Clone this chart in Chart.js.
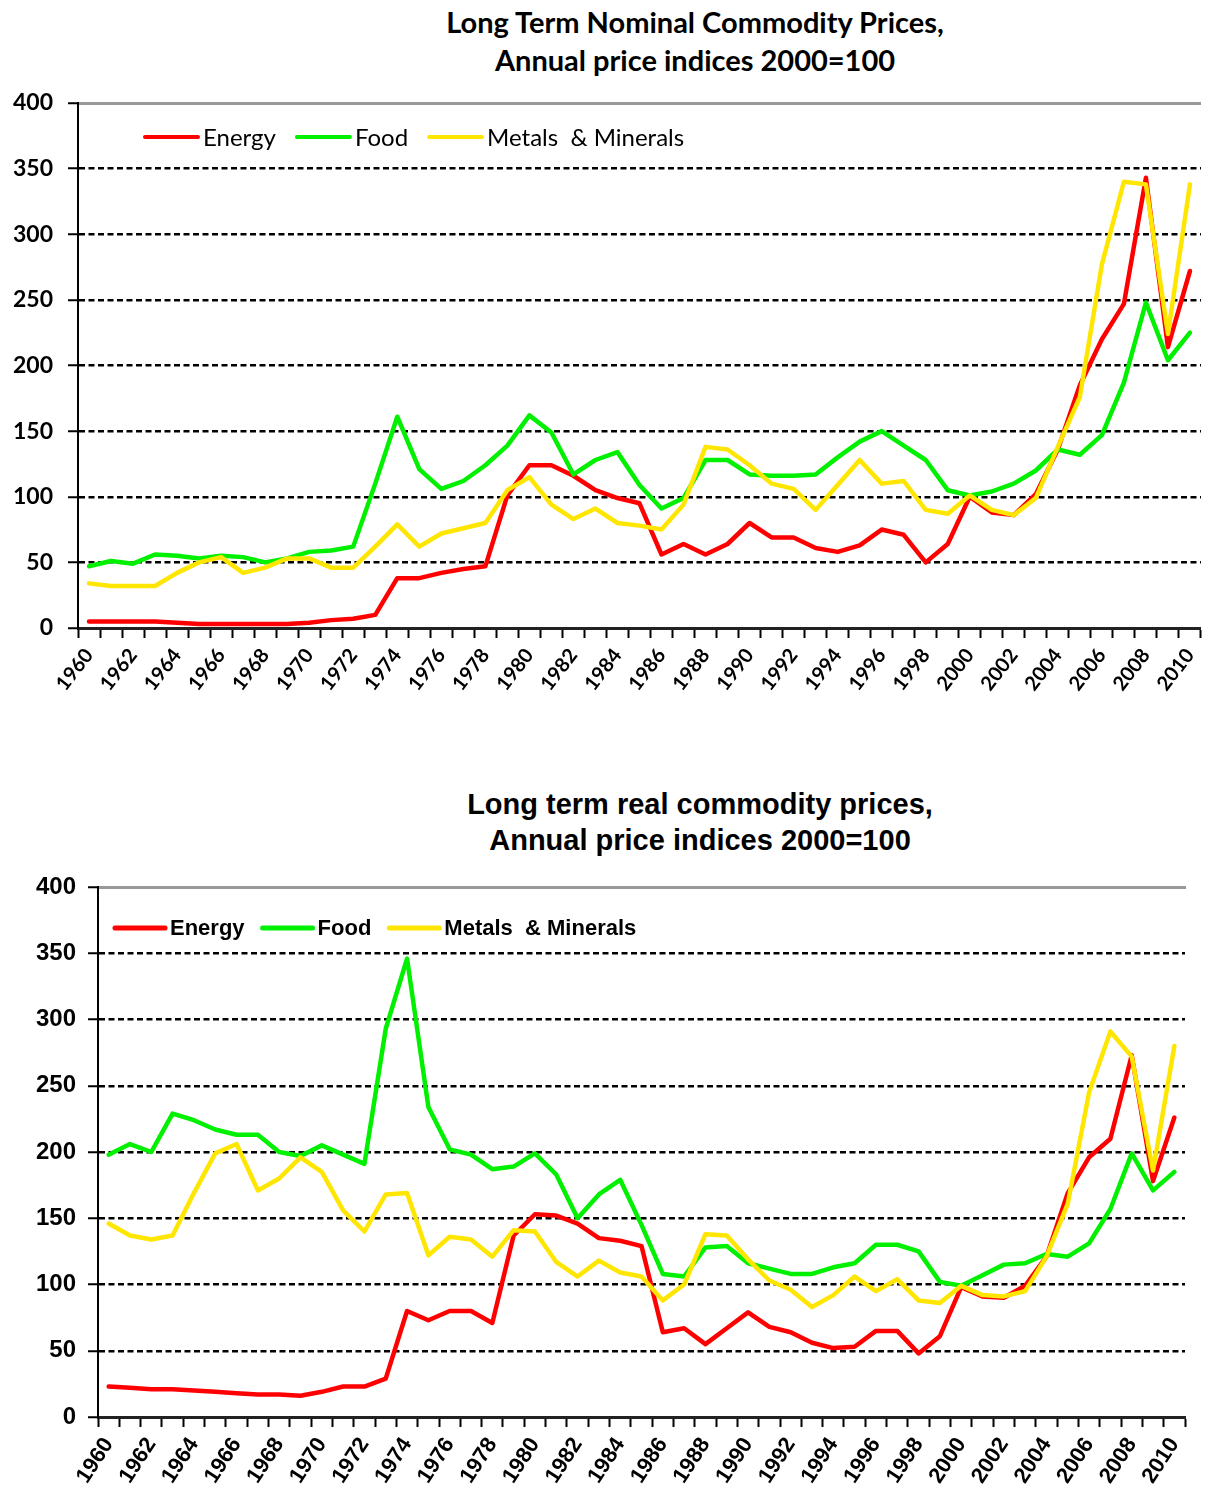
<!DOCTYPE html>
<html>
<head>
<meta charset="utf-8">
<script src="https://cdn.jsdelivr.net/npm/chart.js@4.4.1/dist/chart.umd.min.js"></script>
<style>
  html, body { margin: 0; padding: 0; background: #fff; }
  body { width: 1215px; height: 1501px; position: relative; overflow: hidden; }
  .title { position: absolute; text-align: center; color: #000; font-weight: bold; white-space: nowrap; }
  #t1 { left: 295px; width: 800px; top: 3px; font-family: Lato, "Open Sans", sans-serif; font-size: 29px; line-height: 38px; }
  #t2 { left: 300px; width: 800px; top: 786px; font-family: "Liberation Sans", Arial, sans-serif; font-size: 29px; line-height: 36px; }
  canvas { position: absolute; left: 0; }
  #c1 { top: 0px; }
  #c2 { top: 780px; }
</style>
</head>
<body>
<div class="title" id="t1">Long Term Nominal Commodity Prices,<br>Annual price indices 2000=100</div>
<div class="title" id="t2">Long term real commodity prices,<br>Annual price indices 2000=100</div>
<canvas id="c1" width="1215" height="718"></canvas>
<canvas id="c2" width="1215" height="721"></canvas>
<script>
const years = [];
for (let y = 1960; y <= 2010; y++) years.push(String(y));

const yTicks = [0, 50, 100, 150, 200, 250, 300, 350, 400];
const seriesLabels = ['Energy', 'Food', 'Metals  & Minerals'];
const seriesColors = ['#FF0000', '#00F000', '#FFE600'];

// Nominal indices (top chart)
const nominalEnergy = [5,5,5,5,4,3,3,3,3,3,4,6,7,10,38,38,42,45,47,101,124,124,116,105,99,95,56,64,56,64,80,69,69,61,58,63,75,71,50,64,100,88,86,102,136,185,220,247,343,214,272];
const nominalFood   = [47,51,49,56,55,53,55,54,50,53,58,59,62,110,161,121,106,112,124,139,162,149,117,128,134,109,91,99,128,128,117,116,116,117,130,142,150,139,128,105,101,104,110,120,136,132,147,187,248,204,225];
const nominalMetals = [34,32,32,32,42,50,54,42,46,53,53,46,46,62,79,62,72,76,80,105,115,94,83,91,80,78,75,94,138,136,124,110,106,90,109,128,110,112,90,87,101,90,86,99,138,176,277,340,338,224,338];

// Real indices (bottom chart)
const realEnergy = [23,22,21,21,20,19,18,17,17,16,19,23,23,29,80,73,80,80,71,137,153,152,146,135,133,129,64,67,55,67,79,68,64,56,52,53,65,65,48,61,98,91,90,99,121,169,196,210,273,178,226];
const realFood   = [198,206,200,229,224,217,213,213,200,197,205,198,191,293,346,234,202,198,187,189,199,183,150,168,179,145,108,106,128,129,116,112,108,108,113,116,130,130,125,102,99,107,115,116,123,121,131,157,199,171,185];
const realMetals = [146,137,134,137,169,199,206,171,180,196,185,156,140,168,169,122,136,134,121,141,140,117,106,118,109,106,88,100,138,137,119,103,96,83,92,106,95,104,88,86,99,92,91,95,121,161,245,291,272,186,280];

const inLegend = {
  id: 'inLegend',
  afterDraw(chart, args, opts) {
    const { ctx, chartArea } = chart;
    ctx.save();
    ctx.font = opts.font;
    ctx.textBaseline = 'middle';
    ctx.textAlign = 'left';
    let x = chartArea.left + opts.offsetX;
    const y = chartArea.top + opts.offsetY;
    chart.data.datasets.forEach(ds => {
      ctx.strokeStyle = ds.borderColor;
      ctx.lineWidth = opts.lineWidth;
      ctx.lineCap = 'round';
      ctx.beginPath();
      ctx.moveTo(x, y);
      ctx.lineTo(x + opts.lineLen, y);
      ctx.stroke();
      x += opts.lineLen + opts.textGap;
      ctx.fillStyle = '#000';
      ctx.fillText(ds.label, x, y + 1);
      x += ctx.measureText(ds.label).width + opts.itemGap;
    });
    ctx.restore();
  }
};

function makeChart(id, data, cfg) {
  const datasets = data.map((vals, i) => ({
    label: seriesLabels[i],
    data: vals,
    borderColor: seriesColors[i],
    backgroundColor: seriesColors[i],
    borderWidth: 4.5,
    borderJoinStyle: 'round',
    borderCapStyle: 'round',
    pointRadius: 0,
    tension: 0,
    fill: false,
    order: [2, 1, 0][i]
  }));
  return new Chart(document.getElementById(id), {
    type: 'line',
    data: { labels: years, datasets },
    plugins: [inLegend],
    options: {
      responsive: false,
      animation: false,
      devicePixelRatio: 1,
      layout: { padding: cfg.padding },
      plugins: {
        legend: { display: false },
        tooltip: { enabled: false },
        title: { display: false },
        inLegend: cfg.legend
      },
      scales: {
        x: {
          type: 'category',
          offset: true,
          grid: {
            offset: true,
            drawOnChartArea: false,
            drawTicks: true,
            tickLength: 10,
            tickColor: '#000',
            tickWidth: 2
          },
          border: { display: true, color: '#222', width: 3 },
          ticks: {
            autoSkip: false,
            maxRotation: cfg.rot,
            minRotation: cfg.rot,
            padding: 6,
            color: '#000',
            font: cfg.xFont,
            callback: function (v, i) { return i % 2 === 0 ? this.getLabelForValue(v) : ''; }
          },
          afterFit: s => { s.height = cfg.xHeight; }
        },
        x2: {
          type: 'category',
          position: 'top',
          offset: true,
          grid: { display: false, drawTicks: false },
          ticks: { display: false },
          border: { display: true, color: '#999', width: 3 },
          afterFit: s => { s.height = 0; }
        },
        y: {
          min: 0,
          max: 400,
          afterBuildTicks: s => { s.ticks = yTicks.map(v => ({ value: v })); },
          grid: {
            color: c => (c.tick && (c.tick.value === 0 || c.tick.value === 400)) ? 'rgba(0,0,0,0)' : '#000',
            lineWidth: 2.5,
            drawTicks: true,
            tickLength: 10,
            tickColor: '#000',
            tickWidth: 2,
            tickBorderDash: []
          },
          border: { display: true, color: '#000', width: 2, dash: [6, 3.5] },
          ticks: { color: '#000', font: cfg.yFont, padding: cfg.yPad },
          afterFit: s => { s.width = cfg.yWidth; }
        }
      }
    }
  });
}

makeChart('c1', [nominalEnergy, nominalFood, nominalMetals], {
  padding: { top: 103, right: 2, left: 0, bottom: 0 },
  xHeight: 90,
  yWidth: 78,
  yPad: 15,
  rot: 52,
  xFont: { family: 'Lato, "Open Sans", sans-serif', size: 20, weight: 'bold' },
  yFont: { family: 'Lato, "Open Sans", sans-serif', size: 23, weight: 'bold' },
  legend: { font: '24px Lato, "Open Sans", sans-serif', offsetX: 67, offsetY: 34, lineLen: 53, textGap: 5, itemGap: 21, lineWidth: 4 }
});

makeChart('c2', [realEnergy, realFood, realMetals], {
  padding: { top: 107, right: 30, left: 0, bottom: 0 },
  xHeight: 84,
  yWidth: 98,
  yPad: 12,
  rot: 57,
  xFont: { family: '"Liberation Sans", Arial, sans-serif', size: 22, weight: 'bold' },
  yFont: { family: '"Liberation Sans", Arial, sans-serif', size: 24, weight: 'bold' },
  legend: { font: 'bold 22px "Liberation Sans", Arial, sans-serif', offsetX: 17, offsetY: 41, lineLen: 50, textGap: 5, itemGap: 18, lineWidth: 5 }
});
</script>
</body>
</html>
